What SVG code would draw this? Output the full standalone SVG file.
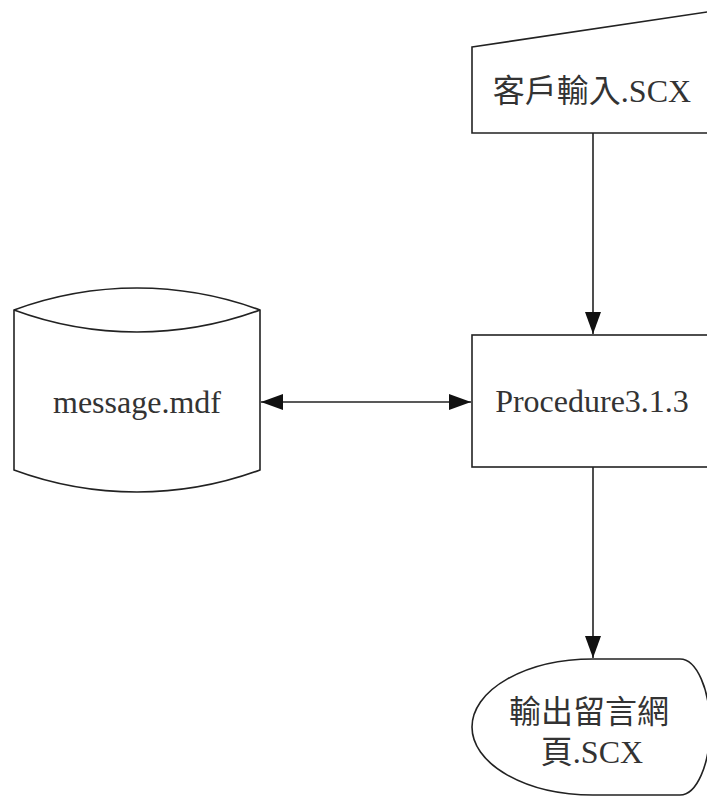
<svg xmlns="http://www.w3.org/2000/svg" width="707" height="797" viewBox="0 0 707 797">
<style>
.shape{fill:#fff;stroke:#222;stroke-width:1.6}
.edge{fill:none;stroke:#222;stroke-width:1.6}
.lbl{font-family:"Liberation Serif","Noto Sans CJK TC",serif;font-size:32px;fill:#333;text-anchor:middle}
</style>
<defs>
<marker id="arr" markerUnits="userSpaceOnUse" markerWidth="24" markerHeight="18" refX="22" refY="8" orient="auto-start-reverse" viewBox="0 0 24 16">
<path d="M0,0 L22,8 L0,16 Z" fill="#111"/>
</marker>
</defs>
<rect width="707" height="797" fill="#fff"/>
<g id="connectors">
<path class="edge" d="M593,133 L593,334" marker-end="url(#arr)"/>
<path class="edge" d="M261,402 L471,402" marker-start="url(#arr)" marker-end="url(#arr)"/>
<path class="edge" d="M593,467 L593,658" marker-end="url(#arr)"/>
</g>
<g id="input">
<path class="shape" d="M472,47 L714,11 L714,133 L472,133 Z"/>
<text class="lbl" x="592" y="102">客戶輸入.SCX</text>
</g>
<g id="process">
<rect class="shape" x="472" y="335" width="242" height="132"/>
<text class="lbl" x="592" y="412">Procedure3.1.3</text>
</g>
<g id="store">
<path class="shape" d="M14,310 A355,355 0 0 1 260,310 L260,470 A355,355 0 0 1 14,470 Z"/>
<path class="edge" d="M14,310 A355,355 0 0 0 260,310"/>
<text class="lbl" x="137" y="413">message.mdf</text>
</g>
<g id="output">
<path class="shape" d="M593,659 L680,659 A30,68 0 0 1 680,795 L593,795 A121,68 0 0 1 472,727 A121,68 0 0 1 593,659 Z"/>
<text class="lbl" x="589" y="723">輸出留言網</text>
<text class="lbl" x="592" y="763">頁.SCX</text>
</g>
</svg>
